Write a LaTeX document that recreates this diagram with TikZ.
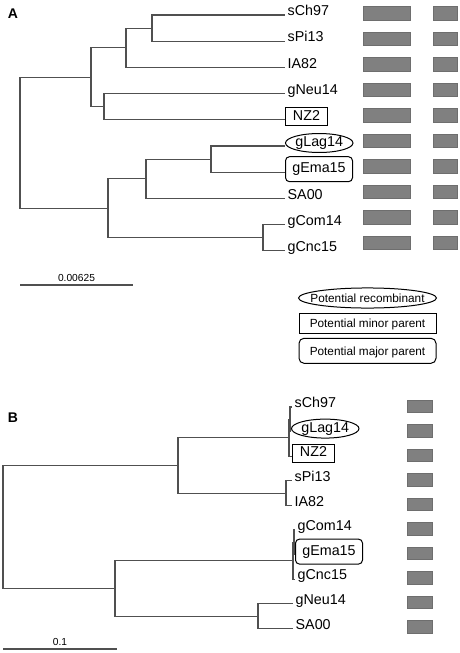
\documentclass[tikz,border=0pt]{standalone}
\usepackage{fontspec}
\setmainfont{Liberation Sans}
\usetikzlibrary{shapes.geometric}
\definecolor{branchgray}{HTML}{505050}
\definecolor{barfill}{HTML}{808080}
\definecolor{barline}{HTML}{6E6E6E}

\tikzset{
  branch/.style={draw=branchgray, line width=1.1pt},
  taxon/.style={anchor=west, yshift=3pt, inner xsep=2.5pt, inner ysep=0pt,
    text height=10.4pt, text depth=3pt, font=\fontsize{14.3}{16}\selectfont},
  recomb/.style={taxon, draw, line width=1pt, ellipse, inner xsep=0pt},
  minorpar/.style={taxon, draw, line width=1pt, rectangle,
    minimum width=42pt, minimum height=18pt},
  majorpar/.style={taxon, draw, line width=1pt, rectangle, rounded corners=4pt,
    minimum width=67pt, minimum height=25pt},
  legendtext/.style={font=\fontsize{11.8}{14}\selectfont, text height=8.6pt, text depth=0pt},
  legrec/.style={legendtext, draw, line width=1pt, ellipse, inner xsep=-8.3pt, inner ysep=2.8pt},
  legminor/.style={legendtext, draw, line width=1pt, rectangle,
    minimum width=137pt, minimum height=20pt},
  legmajor/.style={legendtext, draw, line width=1pt, rectangle, rounded corners=5pt,
    minimum width=137pt, minimum height=25pt},
  seqbar/.style={fill=barfill, draw=barline, line width=0.5pt},
  panel/.style={font=\fontsize{14}{16}\selectfont\bfseries, inner sep=0pt},
  scalelabel/.style={font=\fontsize{10.2}{12}\selectfont, inner sep=0pt}
}

\begin{document}
\begin{tikzpicture}[x=1pt, y=-1pt]
  \useasboundingbox (0,0) rectangle (459,653);

  % panel A
  \node[panel] (panelA) at (13,14) {A};

  \coordinate (sCh97A) at (285,15.0);
  \coordinate (sPi13A) at (285,41.2);
  \coordinate (IA82A) at (285,67.4);
  \coordinate (gNeu14A) at (285,93.6);
  \coordinate (NZ2A) at (285,119.8);
  \coordinate (gLag14A) at (285,146.0);
  \coordinate (gEma15A) at (285,172.2);
  \coordinate (SA00A) at (285,198.4);
  \coordinate (gCom14A) at (285,224.6);
  \coordinate (gCnc15A) at (285,250.8);

  \coordinate (a1) at (152,28.1);
  \coordinate (a2) at (126,47.75);
  \coordinate (a3) at (104,106.7);
  \coordinate (a4) at (91,77.2);
  \coordinate (a5) at (211,159.1);
  \coordinate (a6) at (146,178.75);
  \coordinate (a7) at (263,237.7);
  \coordinate (a8) at (108,208.2);
  \coordinate (a0) at (20,142.7);

  \draw[branch] (a1) |- (sCh97A) (a1) |- (sPi13A)
    (a2) |- (a1) (a2) |- (IA82A)
    (a3) |- (gNeu14A) (a3) |- (NZ2A)
    (a4) |- (a2) (a4) |- (a3)
    (a5) |- (gLag14A) (a5) |- (gEma15A)
    (a6) |- (a5) (a6) |- (SA00A)
    (a7) |- (gCom14A) (a7) |- (gCnc15A)
    (a8) |- (a6) (a8) |- (a7)
    (a0) |- (a4) (a0) |- (a8);

  \node[taxon] (tsCh97A) at (sCh97A) {sCh97};
  \node[taxon] (tsPi13A) at (sPi13A) {sPi13};
  \node[taxon] (tIA82A) at (IA82A) {IA82};
  \node[taxon] (tgNeu14A) at (gNeu14A) {gNeu14};
  \node[minorpar] (tNZ2A) at (NZ2A) {NZ2};
  \node[recomb] (tgLag14A) at (gLag14A) {gLag14};
  \node[majorpar] (tgEma15A) at (gEma15A) {gEma15};
  \node[taxon] (tSA00A) at (SA00A) {SA00};
  \node[taxon] (tgCom14A) at (gCom14A) {gCom14};
  \node[taxon] (tgCnc15A) at (gCnc15A) {gCnc15};

  \foreach \i in {0,...,9} {
    \pgfmathsetmacro\yc{13+25.5*\i}
    \draw[seqbar] (363,{\yc-6.75}) rectangle (410,{\yc+6.75});
    \draw[seqbar] (433,{\yc-6.75}) rectangle (457,{\yc+6.75});
  }

  \coordinate (scaleAl) at (20,285);
  \coordinate (scaleAr) at (133,285);
  \draw[branch] (scaleAl) -- node[above=2.5pt, scalelabel] (scaleAt) {0.00625} (scaleAr);

  % legend
  \node[legrec] (legrec) at (367.5,298) {Potential recombinant};
  \node[legminor] (legminor) at (367.5,323.3) {Potential minor parent};
  \node[legmajor] (legmajor) at (367.5,350.8) {Potential major parent};

  % panel B
  \node[panel] (panelB) at (13,418) {B};

  \coordinate (sCh97B) at (292,407.0);
  \coordinate (gLag14B) at (291,431.6);
  \coordinate (NZ2B) at (292,456.2);
  \coordinate (sPi13B) at (292,480.8);
  \coordinate (IA82B) at (292,505.4);
  \coordinate (gCom14B) at (295,530.0);
  \coordinate (gEma15B) at (295,554.6);
  \coordinate (gCnc15B) at (295,579.2);
  \coordinate (gNeu14B) at (293,603.8);
  \coordinate (SA00B) at (293,628.4);

  \coordinate (b1) at (290,419.3);
  \coordinate (b2) at (289,437.75);
  \coordinate (b3) at (286,493.1);
  \coordinate (b4) at (178,465.4);
  \coordinate (b5) at (294,542.3);
  \coordinate (b6) at (293,560.45);
  \coordinate (b7) at (258,616.1);
  \coordinate (b8) at (115,588.3);
  \coordinate (b0) at (3,526.85);

  \draw[branch] (b1) |- (sCh97B) (b1) |- (gLag14B)
    (b2) |- (b1) (b2) |- (NZ2B)
    (b3) |- (sPi13B) (b3) |- (IA82B)
    (b4) |- (b2) (b4) |- (b3)
    (b5) |- (gCom14B) (b5) |- (gEma15B)
    (b6) |- (b5) (b6) |- (gCnc15B)
    (b7) |- (gNeu14B) (b7) |- (SA00B)
    (b8) |- (b6) (b8) |- (b7)
    (b0) |- (b4) (b0) |- (b8);

  \node[taxon] (tsCh97B) at (sCh97B) {sCh97};
  \node[recomb] (tgLag14B) at (gLag14B) {gLag14};
  \node[minorpar] (tNZ2B) at (NZ2B) {NZ2};
  \node[taxon] (tsPi13B) at (sPi13B) {sPi13};
  \node[taxon] (tIA82B) at (IA82B) {IA82};
  \node[taxon] (tgCom14B) at (gCom14B) {gCom14};
  \node[majorpar] (tgEma15B) at (gEma15B) {gEma15};
  \node[taxon] (tgCnc15B) at (gCnc15B) {gCnc15};
  \node[taxon] (tgNeu14B) at (gNeu14B) {gNeu14};
  \node[taxon] (tSA00B) at (SA00B) {SA00};

  \foreach \i in {0,...,9} {
    \pgfmathsetmacro\yc{406+24.5*\i}
    \draw[seqbar] (407,{\yc-6.25}) rectangle (432,{\yc+6.25});
  }

  \coordinate (scaleBl) at (3,649);
  \coordinate (scaleBr) at (117,649);
  \draw[branch] (scaleBl) -- node[above=2.5pt, scalelabel] (scaleBt) {0.1} (scaleBr);
\end{tikzpicture}
\end{document}
